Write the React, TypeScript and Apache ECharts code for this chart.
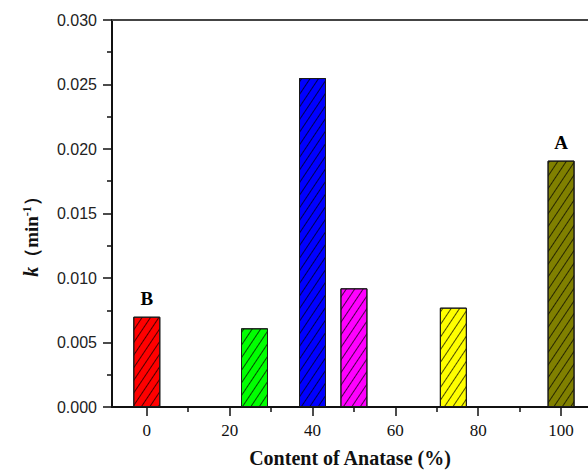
import React, { useEffect, useRef } from "react";
import * as echarts from "echarts";

const anatase = [0, 26, 40, 50, 74, 100];
const kValues = [0.007, 0.0061, 0.0255, 0.0092, 0.0077, 0.0191];
const barLabels = ["B", "", "", "", "", "A"];
const barColors = ["#FF0000", "#00FF00", "#0000FF", "#FF00FF", "#FFFF00", "#808000"];
const xTickValues = [0, 20, 40, 60, 80, 100];
const xMinorTickValues = [10, 30, 50, 70, 90];
const yTickLabels = ["0.000", "0.005", "0.010", "0.015", "0.020", "0.025", "0.030"];

const X_MIN = -8.4;
const X_MAX = 106.5;

export default function App() {
  const ref = useRef<HTMLDivElement>(null);
  useEffect(() => {
    if (!ref.current) return;
    const chart = echarts.init(ref.current, null, { renderer: "svg" });
    const serif = "'Liberation Serif', 'Times New Roman', serif";
    const data = anatase.map((x, i) => ({
      value: [x, kValues[i]],
      itemStyle: {
        color: barColors[i],
        borderColor: "#1a1a1a",
        borderWidth: 1,
        decal: {
          symbol: "rect",
          dashArrayX: [1, 0],
          dashArrayY: [1, 6],
          rotation: -Math.PI / 3.2,
          color: "rgba(0,0,0,0.7)",
        },
      },
      label: barLabels[i]
        ? {
            show: true,
            position: "top",
            distance: 9,
            formatter: barLabels[i],
            fontFamily: serif,
            fontWeight: "bold",
            fontSize: 19,
            color: "#000",
          }
        : { show: false },
    }));
    chart.setOption({
      animation: false,
      backgroundColor: "#fff",
      grid: { left: 112, top: 20, right: 0, bottom: 64, outerBoundsMode: "none", containLabel: false },
      xAxis: [
        {
          type: "value",
          min: X_MIN,
          max: X_MAX,
          position: "bottom",
          splitLine: { show: false },
          axisLine: { show: true, onZero: false, lineStyle: { color: "#111", width: 2 } },
          axisTick: {
            show: true,
            customValues: xTickValues,
            length: 9,
            lineStyle: { color: "#111", width: 1.5 },
          },
          axisLabel: {
            show: true,
            customValues: xTickValues,
            fontFamily: serif,
            fontSize: 17,
            color: "#111",
            margin: 15,
          },
          name: "Content of Anatase (%)",
          nameLocation: "middle",
          nameGap: 41,
          nameTextStyle: {
            fontFamily: serif,
            fontWeight: "bold",
            fontSize: 20,
            color: "#111",
          },
        },
        {
          type: "value",
          min: X_MIN,
          max: X_MAX,
          position: "bottom",
          splitLine: { show: false },
          axisLine: { show: false, onZero: false },
          axisTick: {
            show: true,
            customValues: xMinorTickValues,
            length: 5,
            lineStyle: { color: "#111", width: 1.5 },
          },
          axisLabel: { show: false },
        },
        {
          type: "value",
          min: X_MIN,
          max: X_MAX,
          position: "top",
          splitLine: { show: false },
          axisLine: { show: true, onZero: false, lineStyle: { color: "#444", width: 2 } },
          axisTick: { show: false },
          axisLabel: { show: false },
        },
      ],
      yAxis: {
        type: "value",
        min: 0,
        max: 0.03,
        interval: 0.005,
        position: "left",
        splitLine: { show: false },
        axisLine: { show: true, onZero: false, lineStyle: { color: "#111", width: 2 } },
        axisTick: { show: true, length: 9, lineStyle: { color: "#111", width: 1.5 } },
        minorTick: { show: true, splitNumber: 2, length: 5, lineStyle: { color: "#111", width: 1.5 } },
        axisLabel: {
          fontFamily: "'Liberation Sans', Arial, sans-serif",
          fontSize: 16,
          color: "#222",
          margin: 15,
          formatter: (v: number) => yTickLabels[Math.round(v / 0.005)] ?? v.toFixed(3),
        },
      },
      graphic: [
        {
          type: "text",
          x: 31,
          y: 232,
          rotation: Math.PI / 2,
          style: {
            text: "{k|k}{t|（min}{s|-1}{t|）}",
            textAlign: "center",
            textVerticalAlign: "middle",
            rich: {
              k: { fontFamily: serif, fontStyle: "italic", fontWeight: "bold", fontSize: 20, fill: "#111" },
              t: { fontFamily: serif, fontWeight: "bold", fontSize: 19, fill: "#111" },
              s: {
                fontFamily: serif,
                fontWeight: "bold",
                fontSize: 12,
                fill: "#111",
                verticalAlign: "top",
                padding: [0, 0, 8, 0],
              },
            },
          },
        },
      ],
      series: [
        {
          type: "bar",
          xAxisIndex: 0,
          barWidth: 27,
          data,
        },
      ],
    });
    return () => chart.dispose();
  }, []);
  return (
    <div
      ref={ref}
      style={{ position: "fixed", left: 0, top: 0, width: 588, height: 471, background: "#fff" }}
    />
  );
}
